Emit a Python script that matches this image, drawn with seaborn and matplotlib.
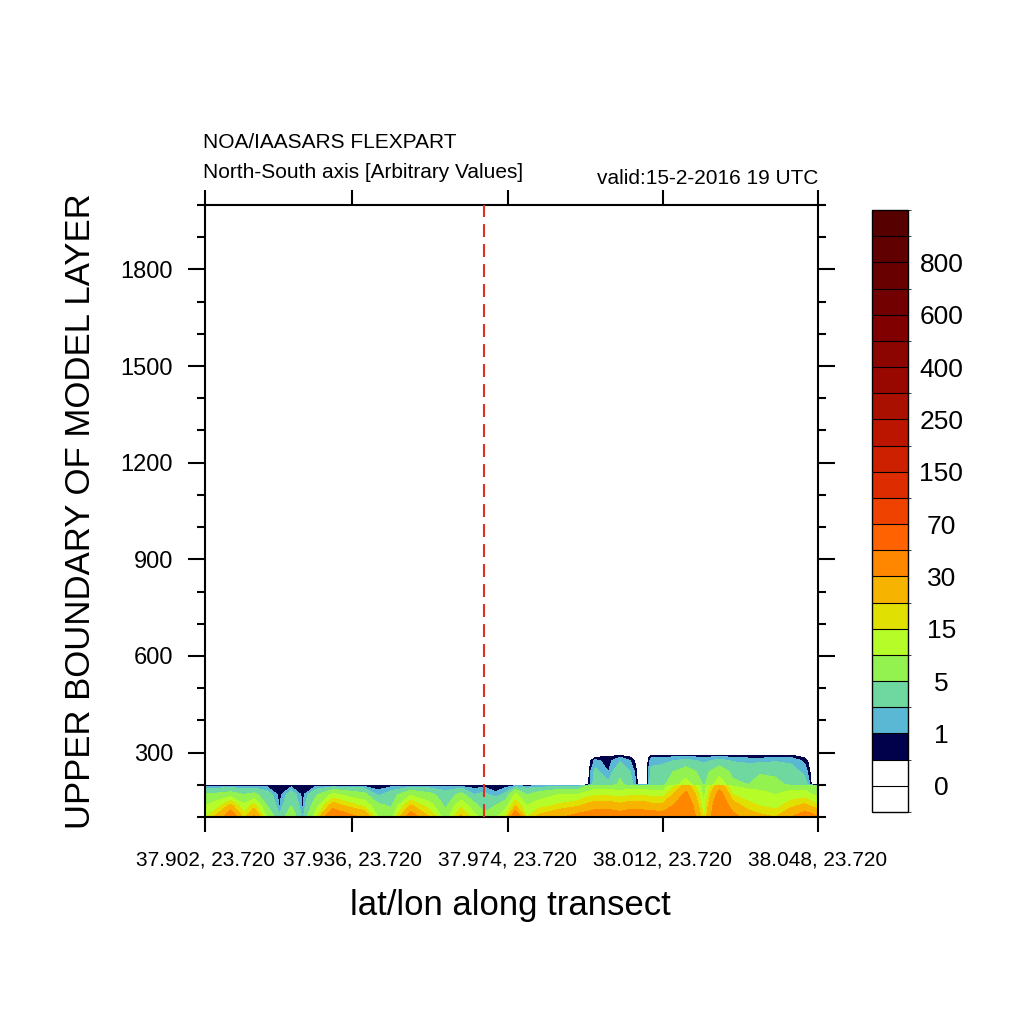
import numpy as np
import matplotlib
matplotlib.use("Agg")
import matplotlib.pyplot as plt
from matplotlib.colors import ListedColormap, BoundaryNorm
from matplotlib.cm import ScalarMappable
from matplotlib.ticker import MultipleLocator
import seaborn as sns

# grid point index along the transect (sample columns)
transect_idx = [0, 2, 3.3, 5, 6.3, 8, 9.6, 11.1, 12.6, 14.2,
                16.5, 18.5, 20.5, 22.3, 24, 26.5, 29, 31, 33, 34.8,
                36, 37.4, 38.8, 40, 41.5, 43, 45.5, 48, 49.3, 50.3,
                52, 53.5, 54.8, 55.9, 56.9, 57.5, 59, 60.3, 62, 64.3,
                66.3, 68, 70, 71.5, 73.5, 75.5, 77.3, 78.3, 79]

# upper boundary of model layer (m)
layer_heights = [100, 135, 170, 196, 200, 240, 275, 288, 296]

conc_100 = [14, 25, 45, 18, 32, 9, 2.5, 8, 1.5, 12,
            46, 35, 28, 10, 7, 38, 20, 7, 22, 12,
            6, 9, 16, 45, 15, 22, 28, 35, 38, 42,
            42, 38, 42, 42, 40, 40, 38, 40, 48, 14,
            48, 35, 25, 22, 20, 30, 38, 35, 30]
conc_135 = [10, 15, 22, 11, 17, 5, 0.8, 5, 0.7, 7,
            24, 18, 14, 6, 4.5, 21, 12, 4, 14, 6,
            3.5, 5, 8, 20, 10, 13, 16, 19, 22, 24,
            24, 22, 24, 24, 23, 22, 22, 30, 42, 11,
            44, 24, 17, 15, 13, 18, 22, 18, 16]
conc_170 = [5.5, 6, 7, 5, 6, 3, 0.6, 3, 0.6, 4,
            11, 8, 6, 1.5, 3, 9, 6, 3, 6, 2,
            2.5, 1.2, 2.5, 11, 5, 7, 10, 10, 13, 14,
            14, 13, 14, 14, 14, 13, 13, 20, 33, 8,
            36, 15, 12, 11, 10, 12, 12, 10, 9]
conc_196 = [0.8, 0.8, 0.8, 0.8, 0.8, 0.8, 0.6, 0.8, 0.6, 0.8,
            1.0, 0.9, 0.8, 0.6, 0.8, 1.0, 0.8, 0.8, 0.8, 0.6,
            0.8, 0.6, 0.7, 1.2, 1.0, 1.2, 1.5, 1.5, 5, 7,
            7, 7, 7, 7, 7, 7, 7, 14, 24, 7,
            26, 10, 9, 9, 8, 8, 8, 6, 5]
conc_200 = [0, 0, 0, 0, 0, 0, 0, 0, 0, 0,
            0, 0, 0, 0, 0, 0, 0, 0, 0, 0,
            0, 0, 0, 0, 0, 0, 0, 0, 0, 3,
            2.5, 6, 3, 0, 0, 3, 4, 8, 13, 4.5,
            14, 6, 5, 7, 6.5, 4, 3, 0, 0]
conc_240 = [0, 0, 0, 0, 0, 0, 0, 0, 0, 0,
            0, 0, 0, 0, 0, 0, 0, 0, 0, 0,
            0, 0, 0, 0, 0, 0, 0, 0, 0, 2.5,
            1.0, 4, 2, 0, 0, 2.5, 3, 5, 7, 3.5,
            8, 4, 3.5, 4.5, 4, 3, 1.5, 0, 0]
conc_275 = [0, 0, 0, 0, 0, 0, 0, 0, 0, 0,
            0, 0, 0, 0, 0, 0, 0, 0, 0, 0,
            0, 0, 0, 0, 0, 0, 0, 0, 0, 1.2,
            0.7, 1.8, 1.0, 0, 0, 1.5, 1.5, 2, 2.5, 1.6,
            2.5, 1.8, 1.5, 1.4, 1.8, 1.6, 0.8, 0, 0]
conc_288 = [0, 0, 0, 0, 0, 0, 0, 0, 0, 0,
            0, 0, 0, 0, 0, 0, 0, 0, 0, 0,
            0, 0, 0, 0, 0, 0, 0, 0, 0, 0.3,
            0.5, 0.8, 0.4, 0, 0, 0.8, 0.8, 0.9, 1.0, 0.8,
            1.0, 0.8, 0.7, 0.7, 0.8, 0.8, 0.3, 0, 0]
conc_296 = [0] * 49

# contour levels and colours of the label bar
cb_levels = [-1, 0, 0.5, 1, 2, 5, 10, 15, 20, 30, 50, 70, 100, 150, 200,
             250, 300, 400, 500, 600, 700, 800, 900, 1000]
cb_ticks = [0, 1, 5, 15, 30, 70, 150, 250, 400, 600, 800]
cb_colors = ["#ffffff", "#ffffff", "#00004b", "#5ab8d5", "#6fd7a0",
             "#93f150", "#b6fc28", "#e0e003", "#f6b300", "#ff8700",
             "#ff6200", "#ef4200", "#dd2d00", "#cc2000", "#bb1500",
             "#aa1000", "#990800", "#8c0500", "#800000", "#720000",
             "#680000", "#600000", "#560000"]

tick_idx = [0, 19, 39, 59, 79]
tick_labels = ["37.902, 23.720", "37.936, 23.720", "37.974, 23.720",
               "38.012, 23.720", "38.048, 23.720"]
marker_idx = 36

sns.set_style("white")
plt.rcParams["font.family"] = ["Liberation Sans", "DejaVu Sans"]
plt.rcParams["text.color"] = "black"
plt.rcParams["axes.labelcolor"] = "black"

fig = plt.figure(figsize=(10.24, 10.24), dpi=100)
ax = fig.add_axes([205 / 1024, 1 - 817 / 1024, 613 / 1024, 612 / 1024])

cmap = ListedColormap(cb_colors)
norm = BoundaryNorm(cb_levels, cmap.N)
Z = np.array([conc_100, conc_135, conc_170, conc_196, conc_200,
              conc_240, conc_275, conc_288, conc_296])
ax.contourf(transect_idx, layer_heights, Z, levels=cb_levels, cmap=cmap, norm=norm)

ax.axvline(marker_idx, color="#e0301e", lw=1.5, dashes=(6.2, 3.4), zorder=5)

ax.set_xlim(0, 79)
ax.set_ylim(100, 2000)
ax.set_xticks(tick_idx, tick_labels)
ax.set_yticks([300, 600, 900, 1200, 1500, 1800])
ax.yaxis.set_minor_locator(MultipleLocator(100))
for s in ax.spines.values():
    s.set_color("black")
    s.set_linewidth(1.5)
ax.tick_params(axis="both", which="both", direction="out", width=1.5,
               colors="black", labelcolor="black")
ax.tick_params(axis="y", which="major", length=12, left=True, right=True,
               labelsize=17, pad=11)
ax.tick_params(axis="y", which="minor", length=6, left=True, right=True)
ax.tick_params(axis="x", which="major", length=11, top=True, bottom=True,
               labelsize=15, pad=13)

fig.text(203 / 1024, 1 - 142 / 1024, "NOA/IAASARS FLEXPART", fontsize=15,
         ha="left", va="center")
fig.text(203 / 1024, 1 - 173 / 1024, "North-South axis [Arbitrary Values]",
         fontsize=15, ha="left", va="center")
fig.text(818 / 1024, 1 - 178 / 1024, "valid:15-2-2016 19 UTC", fontsize=15,
         ha="right", va="center")
fig.text(81 / 1024, 1 - 511 / 1024, "UPPER BOUNDARY OF MODEL LAYER",
         fontsize=25, rotation=90, ha="center", va="center")
fig.text(510 / 1024, 1 - 905 / 1024, "lat/lon along transect", fontsize=25,
         ha="center", va="center")

cax = fig.add_axes([872 / 1024, 1 - 812 / 1024, 36 / 1024, 602 / 1024])
sm = ScalarMappable(norm=norm, cmap=cmap)
cb = fig.colorbar(sm, cax=cax, boundaries=cb_levels, spacing="uniform",
                  drawedges=True, ticks=cb_ticks)
cb.ax.set_yticklabels([str(t) for t in cb_ticks])
cb.ax.tick_params(length=0, labelsize=19, pad=24, labelcolor="black")
for lab in cb.ax.get_yticklabels():
    lab.set_horizontalalignment("center")
cb.outline.set_linewidth(1.0)
cb.outline.set_edgecolor("black")
cb.dividers.set_color("black")
cb.dividers.set_linewidth(0.8)

fig.savefig("out.png", dpi=100)
